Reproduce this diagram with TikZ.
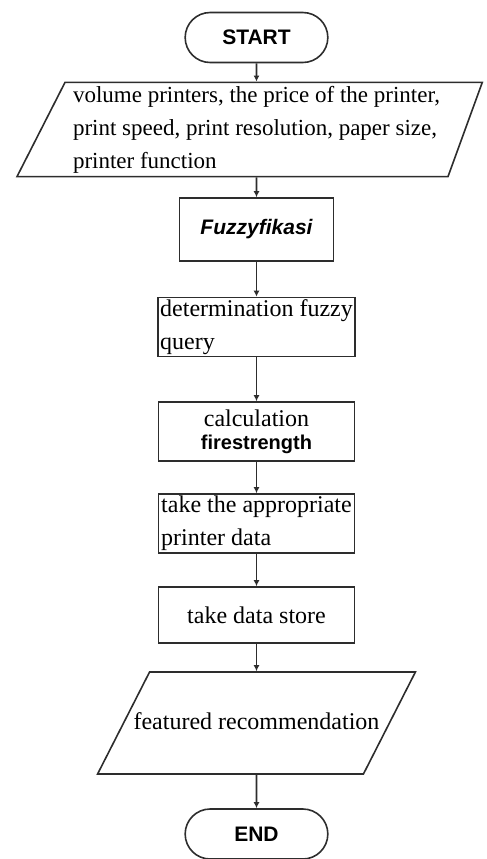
\documentclass[tikz,border=0pt]{standalone}
\usepackage{fontspec}
\setmainfont{Liberation Serif}
\setsansfont{Liberation Sans}
\usetikzlibrary{
  arrows.meta,
  positioning,
  shapes.geometric,
  shapes.misc
}
\definecolor{flowline}{RGB}{45,45,45}

\begin{document}
\begin{tikzpicture}[x=0.5pt,y=-0.5pt,
  term/.style={rounded rectangle,draw=flowline,line width=0.8pt,minimum width=78pt,minimum height=25pt,font=\sffamily\bfseries\fontsize{10.5}{12}\selectfont},
  proc/.style={rectangle,draw=flowline,line width=0.8pt,minimum width=98pt,minimum height=29.5pt,inner sep=1pt,font=\fontsize{12}{16.5}\selectfont},
  io/.style={trapezium,draw=flowline,line width=0.8pt,font=\fontsize{12}{16.5}\selectfont},
  flow/.style={-{Latex[length=3pt,width=3pt]},line width=0.8pt,flowline},
]
\useasboundingbox (0,0) rectangle (487,859);

% ---- start and input ----
\node[term] (start) at (256.5,37.5) {START};
\node[io,trapezium left angle=63,trapezium right angle=110,font=\fontsize{11.5}{16.5}\selectfont,
      inner xsep=4pt,inner ysep=1.8pt,align=left] (input) at (256.5,129.5)
  {volume printers, the price of the printer,\\print speed, print resolution, paper size,\\printer function};

% ---- process steps ----
\node[proc,minimum width=77pt,minimum height=31.5pt,font=\sffamily\bfseries\itshape\fontsize{10.5}{12}\selectfont] (fuzzy) at (256.5,229.5) {Fuzzyfikasi};
\node[proc,align=left] (query) at (256.5,327) {determination fuzzy\\query};
\node[proc,align=center,font=\fontsize{12}{14}\selectfont] (fire) at (256.5,431.5)
  {calculation\\[-2.5pt]{\sffamily\bfseries\fontsize{10}{12}\selectfont firestrength}};
\node[proc,align=left] (printer) at (256.5,523.5) {take the appropriate\\printer data};
\node[proc,minimum height=28pt] (store) at (256.5,615) {take data store};

% ---- output and end ----
\node[io,trapezium left angle=63,trapezium right angle=117,
      text height=9pt,text depth=3pt,inner ysep=19.5pt,inner xsep=-8pt] (recom) at (256.5,723) {featured recommendation};
\node[term] (end) at (256.5,834) {END};

\foreach \a/\b in {start/input,input/fuzzy,fuzzy/query,query/fire,fire/printer,printer/store,store/recom,recom/end}
  \draw[flow] (\a) -- (\b);
\end{tikzpicture}
\end{document}
